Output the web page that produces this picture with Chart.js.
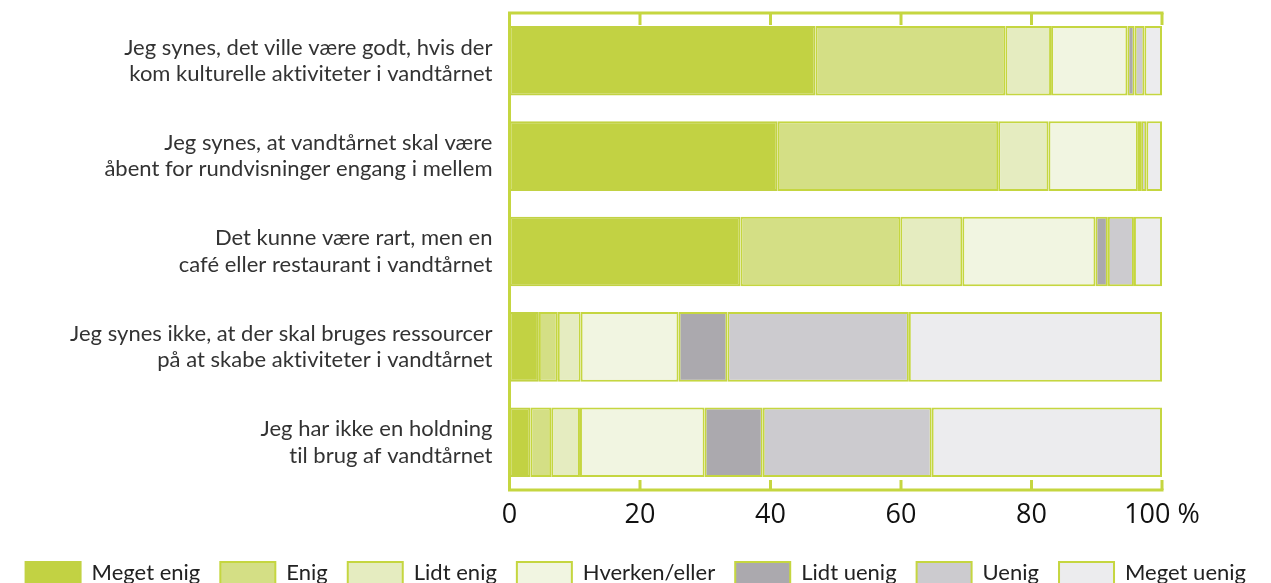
<!DOCTYPE html>
<html>
<head>
<meta charset="utf-8">
<script src="https://cdn.jsdelivr.net/npm/chart.js@4/dist/chart.umd.min.js"></script>
<style>
html,body{margin:0;padding:0;background:#fff;overflow:hidden;}
#wrap{position:relative;width:1271px;height:594px;}
</style>
</head>
<body>
<div id="wrap"><canvas id="c" width="1271" height="594"></canvas></div>
<script>
const categories = [
  ["Jeg synes, det ville være godt, hvis der", "kom kulturelle aktiviteter i vandtårnet"],
  ["Jeg synes, at vandtårnet skal være", "åbent for rundvisninger engang i mellem"],
  ["Det kunne være rart, men en", "café eller restaurant i vandtårnet"],
  ["Jeg synes ikke, at der skal bruges ressourcer", "på at skabe aktiviteter i vandtårnet"],
  ["Jeg har ikke en holdning", "til brug af vandtårnet"]
];
const seriesNames = ["Meget enig", "Enig", "Lidt enig", "Hverken/eller", "Lidt uenig", "Uenig", "Meget uenig"];
const megetEnig  = [46.9, 41.1, 35.4, 4.5, 3.2];
const enig       = [29.1, 33.8, 24.5, 2.9, 3.2];
const lidtEnig   = [7.0, 7.7, 9.5, 3.5, 4.4];
const hverken    = [11.7, 13.7, 20.4, 15.0, 19.1];
const lidtUenig  = [1.1, 0.5, 1.9, 7.5, 8.9];
const uenig      = [1.5, 0.8, 4.0, 27.8, 25.9];
const megetUenig = [2.7, 2.4, 4.3, 38.8, 35.3];
const tickValues = [0, 20, 40, 60, 80, 100];
const tickLabels = ["0", "20", "40", "60", "80", "100 %"];

const colors = ["#c2d243", "#d4df85", "#e5ecc0", "#f1f5e1", "#aba9ae", "#cccbcf", "#ececee"];
const lime = "#c5d640";
const allSeries = [megetEnig, enig, lidtEnig, hverken, lidtUenig, uenig, megetUenig];

const noLigatures = {
  id: 'noLigatures',
  beforeDraw(chart) { try { chart.ctx.letterSpacing = '0.01px'; } catch (e) {} }
};

const frame = {
  id: 'frame',
  afterDatasetsDraw(chart) {
    const {ctx, chartArea: a, scales: {x}} = chart;
    ctx.save();
    ctx.strokeStyle = lime;
    ctx.lineWidth = 3;
    ctx.lineCap = 'butt';
    ctx.beginPath();
    ctx.moveTo(a.left, a.top);
    ctx.lineTo(a.right + 1.5, a.top);
    ctx.moveTo(a.left, a.top - 1.5);
    ctx.lineTo(a.left, a.bottom + 1.5);
    ctx.moveTo(a.left, a.bottom);
    ctx.lineTo(a.right + 1.5, a.bottom);
    ctx.stroke();
    tickValues.forEach(v => {
      if (v === 0) return;
      const px = x.getPixelForValue(v);
      ctx.beginPath();
      ctx.moveTo(px, a.top);
      ctx.lineTo(px, a.top + 12);
      ctx.moveTo(px, a.bottom);
      ctx.lineTo(px, a.bottom - 10);
      ctx.stroke();
    });
    ctx.restore();
  }
};

new Chart(document.getElementById('c'), {
  type: 'bar',
  data: {
    labels: categories,
    datasets: seriesNames.map((n, i) => ({
      label: n,
      data: allSeries[i],
      backgroundColor: colors[i],
      borderColor: i === 0 ? colors[0] : lime,
      borderWidth: 2,
      borderSkipped: false,
      barPercentage: 0.73,
      categoryPercentage: 1
    }))
  },
  options: {
    indexAxis: 'y',
    responsive: false,
    animation: false,
    layout: { padding: { top: 13, right: 0, left: 0, bottom: 0 } },
    plugins: {
      tooltip: { enabled: false },
      legend: {
        position: 'bottom',
        labels: {
          boxWidth: 55,
          boxHeight: 22,
          padding: 20,
          color: '#222',
          font: { family: 'Lato', size: 22 }
        }
      }
    },
    scales: {
      x: {
        stacked: true,
        min: 0, max: 100,
        afterBuildTicks(s) { s.ticks = tickValues.map(v => ({value: v})); },
        ticks: {
          callback: (v) => tickLabels[tickValues.indexOf(v)],
          color: '#111',
          font: { family: 'Open Sans', size: 27 },
          padding: 9,
          maxRotation: 0,
          autoSkip: false
        },
        grid: { display: false, drawTicks: false },
        border: { display: false },
        afterFit(s) { s.height = 52; s.paddingLeft = 0; s.paddingRight = 109; }
      },
      y: {
        stacked: true,
        ticks: {
          color: '#333',
          font: { family: 'Lato', size: 22, lineHeight: 1.2 },
          padding: 17,
          crossAlign: 'near'
        },
        grid: { display: false, drawTicks: false },
        border: { display: false },
        afterFit(s) { s.width = 509.5; s.paddingTop = 0; s.paddingBottom = 0; }
      }
    }
  },
  plugins: [noLigatures, frame]
});
</script>
</body>
</html>
